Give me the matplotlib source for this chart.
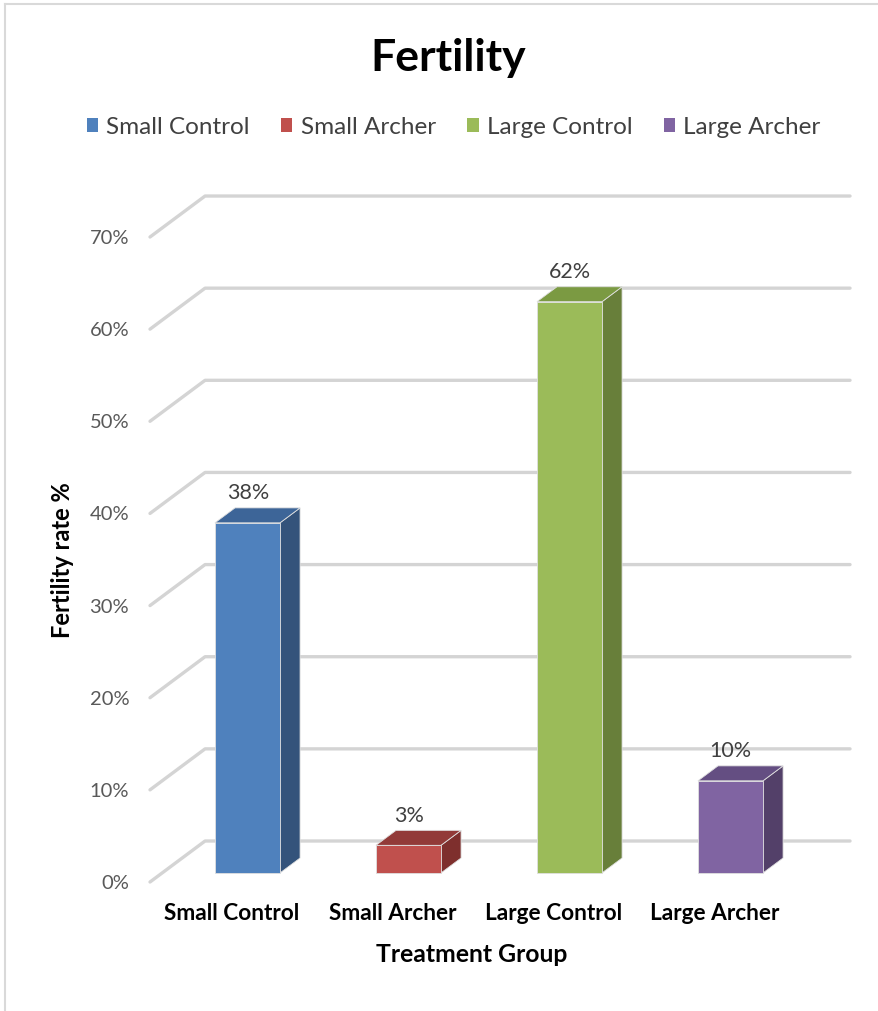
import matplotlib.pyplot as plt
from matplotlib.patches import Polygon, Patch
from matplotlib.lines import Line2D

plt.rcParams['font.family'] = ['Lato', 'DejaVu Sans']

groups = ["Small Control", "Small Archer", "Large Control", "Large Archer"]
fertility = [38, 3, 62, 10]
yticks = [0, 10, 20, 30, 40, 50, 60, 70]

front = ["#4F81BD", "#C0504D", "#9BBB59", "#8064A2"]
side = ["#34537B", "#7E2F2D", "#687F3A", "#534069"]
top = ["#3D6598", "#923A38", "#7B9A42", "#644E82"]

# fake 3d: depth offset of the back wall, in data units
DX, DY = 0.342, 4.45
W = 0.404           # bar width
Z0, Z1 = 0.22, 0.585  # bar front/back depth
XL, XR = -0.53, 3.476 + DX

fig = plt.figure(figsize=(8.79, 10.11), dpi=100)
ax = fig.add_axes([150 / 879, 129 / 1011, 700 / 879, 691 / 1011])
ax.set_xlim(XL, XL + 700 / 161)
ax.set_ylim(0, 691 / 9.214)

# gridlines: slanted side wall + back wall
for v in yticks:
    ax.plot([XL, XL + DX, XR], [v, v + DY, v + DY], color="#D4D4D4",
            lw=2.4, solid_capstyle="round", zorder=1, clip_on=False)

def proj(x, v, z):
    return (x + z * DX, v + z * DY)

for i, val in enumerate(fertility):
    l, r = i - W / 2, i + W / 2
    f = [proj(l, 0, Z0), proj(r, 0, Z0), proj(r, val, Z0), proj(l, val, Z0)]
    s = [proj(r, 0, Z0), proj(r, 0, Z1), proj(r, val, Z1), proj(r, val, Z0)]
    t = [proj(l, val, Z0), proj(r, val, Z0), proj(r, val, Z1), proj(l, val, Z1)]
    for pts, c in ((s, side[i]), (t, top[i]), (f, front[i])):
        ax.add_patch(Polygon(pts, closed=True, facecolor=c, edgecolor="#E0E0E0",
                             lw=0.6, zorder=3, clip_on=False))
    lx, ly = proj(i, val, (Z0 + Z1) / 2)
    ax.text(lx - 0.06, ly + 1.3, f"{val}%", ha="center", va="bottom",
            fontsize=15.5, color="#404040", zorder=4)

ax.set_yticks(yticks)
ax.set_yticklabels([f"{v}%" for v in yticks], fontsize=14.5, color="#595959")
ax.set_xticks([i - 0.025 for i in range(len(groups))])
ax.set_xticklabels(groups, fontsize=16.3, fontweight="bold", color="black")
ax.tick_params(axis="y", length=0, pad=15)
ax.tick_params(axis="x", length=0, pad=15)
for sp in ax.spines.values():
    sp.set_visible(False)

fig.text(0.51, 1 - 58 / 1011, "Fertility", ha="center", va="center",
         fontsize=32, fontweight="bold")
fig.text(0.537, 1 - 955 / 1011, "Treatment Group", ha="center", va="center",
         fontsize=17.8, fontweight="bold")
fig.text(63 / 879, 1 - 560 / 1011, "Fertility rate %", ha="center", va="center",
         rotation=90, fontsize=17, fontweight="bold")

handles = [Patch(facecolor=c, label=g) for c, g in zip(front, groups)]
fig.legend(handles=handles, loc="center", bbox_to_anchor=(0.516, 1 - 127 / 1011),
           ncol=4, frameon=False, fontsize=17.5, handlelength=0.47, handleheight=0.47,
           handletextpad=0.33, columnspacing=1.3, labelcolor="#404040")

# chart area border (top and left only)
fig.add_artist(Line2D([5 / 879, 1], [1 - 4 / 1011] * 2, color="#D9D9D9", lw=1.5,
                      transform=fig.transFigure))
fig.add_artist(Line2D([5 / 879] * 2, [0, 1 - 4 / 1011], color="#D9D9D9", lw=1.5,
                      transform=fig.transFigure))

fig.savefig("out.png", dpi=100)
